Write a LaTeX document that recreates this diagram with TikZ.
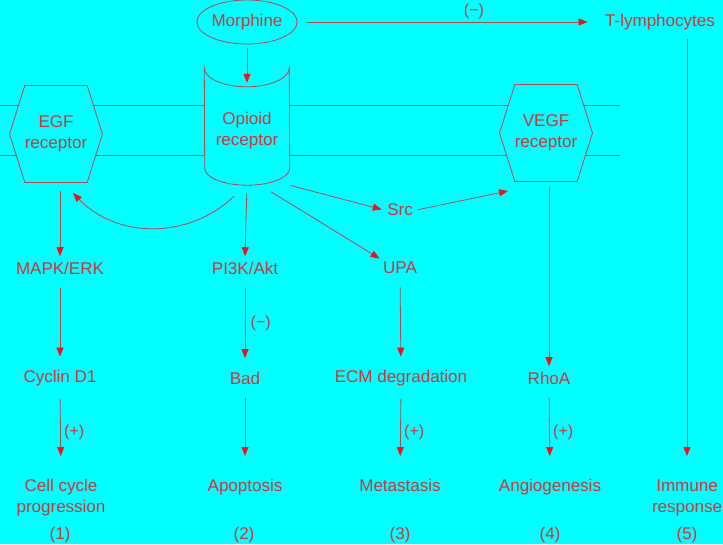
\documentclass[tikz,border=0pt]{standalone}
\usepackage{fontspec}
\setmainfont{Liberation Sans}
\usetikzlibrary{positioning,shapes.geometric,shapes.symbols,arrows.meta}
\definecolor{bgcyan}{RGB}{0,255,255}
\definecolor{linered}{RGB}{175,75,85}
\definecolor{textred}{RGB}{200,55,60}
\definecolor{tipred}{RGB}{235,20,30}

\begin{document}
\begin{tikzpicture}[x=1pt, y=-1pt,
    molecule/.style={text=textred, font=\fontsize{17}{21}\selectfont, align=center},
    outcome/.style={molecule, anchor=north},
    receptor/.style={molecule, draw=linered, line width=0.8pt, fill=bgcyan, signal, signal to=west and east, signal pointer angle=145, minimum width=88pt, minimum height=97pt, inner sep=0pt},
    arrow/.style={draw=linered, line width=0.8pt, -{Triangle[length=9pt,width=7pt,color=tipred]}, shorten >=10pt, shorten <=10pt},
    effect/.style={text=textred, font=\fontsize{16}{18}\selectfont}
]

\useasboundingbox (0,0) rectangle (723,544);
\fill[bgcyan] (0,0) rectangle (723,544);

% Membrane
\draw[linered, line width=0.8pt] (0,105) -- (620,105);
\draw[linered, line width=0.8pt] (0,155) -- (620,155);

% Receptors
\node[receptor] (egf) at (56,134) {EGF\\receptor};
\node[receptor] (vegf) at (546,133) {VEGF\\receptor};
\node[molecule, minimum width=85pt, minimum height=117pt] (opioid) at (247,126.5) {};
\draw[linered, line width=0.8pt, fill=bgcyan] (opioid.north west)
    arc[start angle=180, end angle=360, x radius=42.5pt, y radius=19pt]
    -- ([yshift=17pt]opioid.south east)
    arc[start angle=0, end angle=-180, x radius=42.5pt, y radius=17pt] -- cycle;
\node[molecule] at ([yshift=-4pt]opioid.center) {Opioid\\receptor};

% Molecules
\node[molecule, draw=linered, line width=0.8pt, ellipse, minimum width=98pt, minimum height=44pt, inner sep=0pt] (morphine) at (247,22) {Morphine};
\node[molecule] (tcell) at (660,22) {T-lymphocytes};
\node[molecule] (src) at (400,210) {Src};
\node[molecule] (mapk) at (60,268) {MAPK/ERK};
\node[molecule] (pi3k) at (245,268) {PI3K/Akt};
\node[molecule] (upa) at (400,268) {UPA};
\node[molecule] (cyclin) at (60,378) {Cyclin D1};
\node[molecule] (bad) at (245,378) {Bad};
\node[molecule] (ecm) at (401,378) {ECM degradation};
\node[molecule] (rhoa) at (549,378) {RhoA};

% Outcomes
\node[outcome] (cellcycle) at (61,476) {Cell cycle\\progression};
\node[outcome] (apoptosis) at (245,476) {Apoptosis};
\node[outcome] (metastasis) at (400,476) {Metastasis};
\node[outcome] (angio) at (550,476) {Angiogenesis};
\node[outcome] (immune) at (687,476) {Immune\\response};
\node[molecule] (n1) at (60,535) {(1)};
\node[molecule] (n2) at (244,535) {(2)};
\node[molecule] (n3) at (400,535) {(3)};
\node[molecule] (n4) at (550,535) {(4)};
\node[molecule] (n5) at (687,535) {(5)};

% Connections
\draw[arrow, shorten <=4pt, shorten >=2pt] (morphine.south) -- ([yshift=-17pt]opioid.north);
\draw[arrow, shorten <=9pt, shorten >=14pt] (morphine.east) -- node[effect, above, pos=0.58, yshift=-1pt] {(−)} (tcell.west);
\draw[arrow, shorten >=20pt, shorten <=6pt] (tcell.south -| immune.north) -- (immune.north);
\draw[arrow, shorten <=8pt, shorten >=2pt] (egf.south -| mapk) -- (mapk.north);
\draw[arrow, shorten <=8pt, shorten >=2pt] (opioid.south) -- (pi3k.north);
\draw[arrow, shorten <=1pt, shorten >=0pt] ([xshift=23pt,yshift=-6pt]opioid.south) -- (upa.north west);
\draw[arrow, shorten <=1pt, shorten >=2pt] (opioid.south east) -- (src.west);
\draw[arrow, shorten <=1pt, shorten >=0pt] (src.east) -- ([xshift=-38pt,yshift=-58pt]vegf.center);
\draw[arrow, shorten <=0pt, shorten >=0pt] ([xshift=-13pt,yshift=-11pt]opioid.south) to[bend left=45] ([xshift=17pt,yshift=-59pt]egf.center);
\draw[arrow, shorten <=5pt, shorten >=2pt] (vegf.south -| rhoa) -- (rhoa.north);
\draw[arrow] (mapk) -- (cyclin);
\draw[arrow] (pi3k) -- node[effect, right, xshift=2pt] {(−)} (bad);
\draw[arrow] (upa) -- (ecm);
\draw[arrow, shorten >=20pt] (cyclin.south) -- node[effect, right, pos=0.5] {(+)} (cellcycle.north);
\draw[arrow, shorten >=20pt] (bad.south) -- (apoptosis.north);
\draw[arrow, shorten >=20pt] (ecm.south) -- node[effect, right, pos=0.5] {(+)} (metastasis.north);
\draw[arrow, shorten >=20pt] (rhoa.south) -- node[effect, right, pos=0.5] {(+)} (angio.north);

\end{tikzpicture}
\end{document}
